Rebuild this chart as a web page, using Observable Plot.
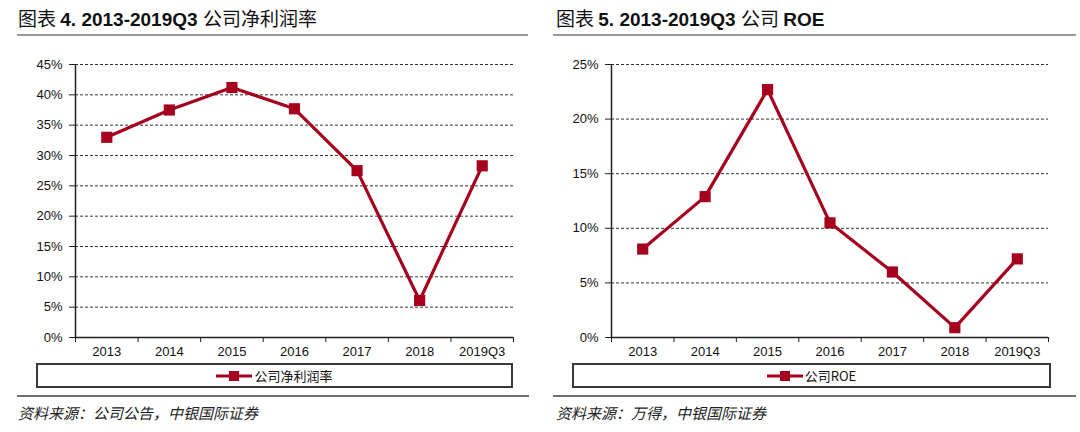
<!DOCTYPE html>
<html>
<head>
<meta charset="utf-8">
<script src="https://cdn.jsdelivr.net/npm/d3@7"></script>
<script src="https://cdn.jsdelivr.net/npm/@observablehq/plot@0.6"></script>
<style>
  html, body { margin: 0; padding: 0; background: #fff; }
  #root { position: relative; width: 1080px; height: 432px; overflow: hidden; font-family: "Liberation Sans", Arial, "Noto Sans CJK SC", sans-serif; }
  .title { position: absolute; top: 4px; font-size: 19px; color: #111; white-space: nowrap; }
  .title .cjk { font-family: "Noto Sans CJK SC", sans-serif; font-weight: 400; }
  .title .lat { font-family: "Liberation Sans", Arial, sans-serif; font-weight: 700; }
  .hr { position: absolute; height: 2px; background: #9a9a9a; }
  .hr2 { position: absolute; height: 2px; background: #707070; }
  .legend { position: absolute; top: 363px; height: 21px; border: 2px solid #3a3a3a; box-sizing: content-box; display: flex; align-items: center; justify-content: center; font-family: "Noto Sans CJK SC", sans-serif; font-size: 13px; color: #111; }
  .legend svg { margin-right: 2px; }
  .source { position: absolute; top: 402px; font-family: "Noto Sans CJK SC", sans-serif; font-style: italic; font-size: 15px; color: #222; white-space: nowrap; }
  .chart { position: absolute; top: 40px; }
</style>
</head>
<body>
<div id="root">
  <div class="title" style="left:18px"><span class="cjk">图表 </span><span class="lat">4. 2013-2019Q3 </span><span class="cjk">公司净利润率</span></div>
  <div class="title" style="left:556px"><span class="cjk">图表 </span><span class="lat">5. 2013-2019Q3 </span><span class="cjk">公司 </span><span class="lat">ROE</span></div>
  <div class="hr" style="left:17px; width:511px; top:34px"></div>
  <div class="hr" style="left:553px; width:523px; top:34px"></div>
  <div id="c1" class="chart" style="left:0px"></div>
  <div id="c2" class="chart" style="left:540px"></div>
  <div id="l1" class="legend" style="left:36px; width:473px"></div>
  <div id="l2" class="legend" style="left:572px; width:475px"></div>
  <div class="hr2" style="left:17px; width:512px; top:395px"></div>
  <div class="hr2" style="left:553px; width:523px; top:395px"></div>
  <div class="source" style="left:18px">资料来源：公司公告，中银国际证券</div>
  <div class="source" style="left:556px">资料来源：万得，中银国际证券</div>
</div>
<script>
// ---- data ----
const years = ["2013", "2014", "2015", "2016", "2017", "2018", "2019Q3"];
const netMargin = [33.0, 37.5, 41.2, 37.7, 27.5, 6.1, 28.3];
const roe = [8.1, 12.9, 22.7, 10.5, 6.0, 0.9, 7.2];
const netMarginTicks = [0, 5, 10, 15, 20, 25, 30, 35, 40, 45];
const roeTicks = [0, 5, 10, 15, 20, 25];
const seriesNames = ["公司净利润率", "公司ROE"];

const RED = "#a6001f";
const INK = "#222";

function makeChart(values, ticks, marginLeft, marginRight) {
  const data = years.map((c, i) => ({ pos: i + 0.5, v: values[i], label: c }));
  const max = ticks[ticks.length - 1];
  const boundaries = d3.range(0, years.length + 1);
  const centers = years.map((c, i) => i + 0.5);
  return Plot.plot({
    width: 540,
    height: 330,
    marginLeft,
    marginRight,
    marginTop: 24,
    marginBottom: 33,
    style: { fontFamily: "Liberation Sans, Arial, sans-serif", fontSize: "13px", color: INK, background: "transparent", overflow: "visible" },
    x: { domain: [0, years.length], axis: null, label: null },
    y: { domain: [0, max], axis: null, label: null },
    marks: [
      Plot.ruleY(ticks.filter(t => t > 0), { stroke: "#333", strokeWidth: 1, strokeDasharray: "3,2" }),
      Plot.axisY({ ticks, tickFormat: d => d + "%", tickSize: 6, tickPadding: 7, stroke: INK, fill: "#111", fontSize: 13, strokeOpacity: 1, label: null }),
      Plot.axisX({ ticks: boundaries, tickFormat: () => "", tickSize: 5, stroke: INK, strokeOpacity: 1, label: null }),
      Plot.axisX({ ticks: centers, tickFormat: d => years[Math.floor(d)], tickSize: 0, tickPadding: 9, fill: "#111", fontSize: 13, label: null }),
      Plot.ruleX([0], { stroke: INK, strokeWidth: 1.5 }),
      Plot.ruleY([0], { stroke: INK, strokeWidth: 1.5 }),
      Plot.line(data, { x: "pos", y: "v", stroke: RED, strokeWidth: 3.2, strokeLinejoin: "miter" }),
      Plot.dot(data, { x: "pos", y: "v", symbol: "square", fill: RED, stroke: "none", r: 6.3 })
    ]
  });
}

document.getElementById("c1").append(makeChart(netMargin, netMarginTicks, 75, 27));
document.getElementById("c2").append(makeChart(roe, roeTicks, 71, 32));

function legendSwatch() {
  const ns = "http://www.w3.org/2000/svg";
  const svg = document.createElementNS(ns, "svg");
  svg.setAttribute("width", 36);
  svg.setAttribute("height", 12);
  const line = document.createElementNS(ns, "line");
  line.setAttribute("x1", 0); line.setAttribute("x2", 36);
  line.setAttribute("y1", 6); line.setAttribute("y2", 6);
  line.setAttribute("stroke", RED); line.setAttribute("stroke-width", 3);
  const rect = document.createElementNS(ns, "rect");
  rect.setAttribute("x", 13); rect.setAttribute("y", 1);
  rect.setAttribute("width", 10); rect.setAttribute("height", 10);
  rect.setAttribute("fill", RED);
  svg.append(line, rect);
  return svg;
}
[["l1", seriesNames[0]], ["l2", seriesNames[1]]].forEach(([id, name]) => {
  const el = document.getElementById(id);
  el.append(legendSwatch());
  const span = document.createElement("span");
  span.textContent = name;
  el.append(span);
});
</script>
</body>
</html>
